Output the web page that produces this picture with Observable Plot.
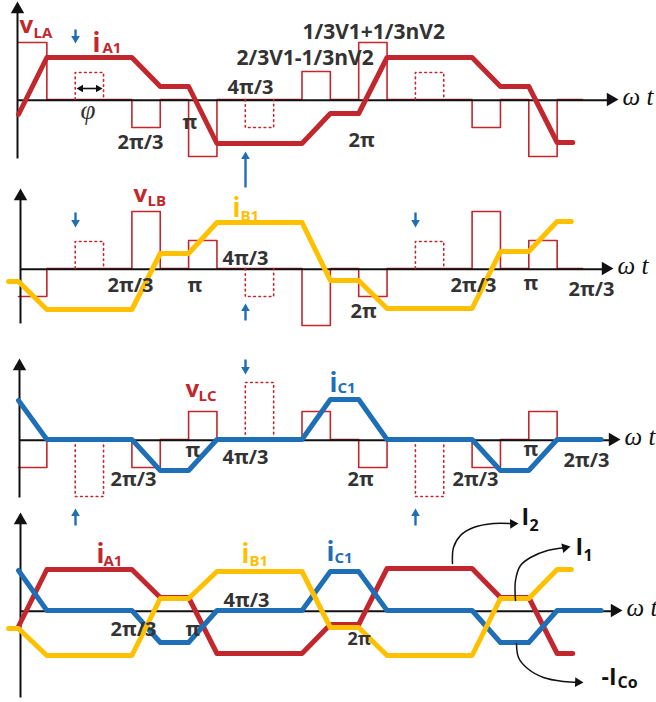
<!DOCTYPE html>
<html><head><meta charset="utf-8">
<script src="https://cdn.jsdelivr.net/npm/d3@7"></script>
<script src="https://cdn.jsdelivr.net/npm/@observablehq/plot@0.6"></script>
<style>body{margin:0;background:#fff;} #chart svg{display:block}</style>
</head><body><div id="chart"></div>
<script>
const RED = "#C1272D", YEL = "#FFC000", BLU = "#1F6FB6", INK = "#333333", BLK = "#111111";
const X0 = 18, U = 28.35;               // pixel of k=0 and pixels per k-step (pi/6)
const px2k = p => (p - X0) / U;

// panel layout (pixels)
const panels = [0, 1, 2, 3];
const base = [99, 268, 439, 610];
const vAxisX = [17, 20, 19, 20];
const vAxisTop = [1, 188, 358, 512];
const vAxisBot = [158, 323, 497, 697];
const hAxisTip = [618, 613, 620, 622];

// inductor voltages (step waveforms), breakpoints in k = pi/6 steps
const vK  = [0, 1, 4, 5, 6, 7, 10, 11, 12, 13, 16, 17, 18, 19, 19.9];
const vLA = [57, 0, -28, 0, -57, 0, 28, 0, 57, 0, -28, 0, -57, 0, 0];
const vLB = [-28, 0, 57, 0, 28, 0, -57, 0, -28, 0, 57, 0, 28, 0, 0];
const vLC = [-28, 0, -28, 0, 28, 0, 28, 0, -28, 0, -28, 0, 28, 0, 0];

// dotted phase-shift boxes
const dotK = [2, 8, 14];
const dotA = [27, -28, 27];
const dotB = [27, -28, 27];
const dotC = [-57, 57, -57];

// currents
const iAK   = [0, 1, 4, 5, 6, 7, 10, 11, 12, 13, 16, 17, 18, 19, 19.55];
const iA1_1 = [-15, 42, 42, 13, 13, -44, -44, -14, -14, 42, 42, 13, 13, -43, -43];
const iA1_4 = [-16, 41, 41, 13, 13, -43, -43, -14, -14, 42, 42, 13, 13, -43, -43];
const iBK   = [-0.35, 0, 1, 4, 5, 6, 7, 10, 11, 12, 13, 16, 17, 18, 19, 19.5];
const iB1_2 = [-13, -13, -41, -41, 15, 15, 46, 46, -12, -12, -40, -40, 17, 17, 47, 47];
const iB1_4 = [-18, -18, -45, -45, 12, 12, 39, 39, -17, -17, -45, -45, 12, 12, 41, 41];
const iCK   = [0, 1, 4, 5, 6, 7, 10, 11, 12, 13, 16, 17, 18, 19, 20.55];
const iC1_3 = [39, 0, 0, -31, -31, 0, 0, 40, 40, 0, 0, -31, -31, 0, 0];
const iC1_4 = [40, 0, 0, -32, -32, 0, 0, 39, 39, 0, 0, -32, -32, 0, 0];

// text labels: [left px, center px, text]
const tickLabels = [
  [117, 142, "2π/3"], [182, 122, "π"], [227, 87, "4π/3"], [348, 140, "2π"],
  [107, 285, "2π/3"], [187, 285, "π"], [222, 258, "4π/3"], [350, 311, "2π"], [450, 285, "2π/3"], [523, 283, "π"], [568, 289, "2π/3"],
  [110, 479, "2π/3"], [185, 450, "π"], [222, 457, "4π/3"], [347, 479, "2π"], [452, 479, "2π/3"], [523, 449, "π"], [563, 460, "2π/3"],
  [110, 629, "2π/3"], [185, 629, "π"], [223, 600, "4π/3"]
];
const smallTick = [[347, 639, "2π"]];
const formulas = [[236, 58, "2/3V1-1/3nV2"], [302, 32, "1/3V1+1/3nV2"]];
const redV = [[19, 25.3, "v"], [133, 194.3, "v"], [185, 389.3, "v"]];
const redI = [[92, 42.7, "i"], [96, 553.7, "i"]];
const redSub = [[33, 32.2, "LA"], [102, 47.2, "A1"], [147, 200.2, "LB"], [198, 395.2, "LC"], [103, 560.2, "A1"]];
const yelI = [[232, 207.7, "i"], [241, 553.7, "i"]];
const yelSub = [[240, 215.2, "B1"], [249, 560.2, "B1"]];
const bluI = [[329, 382.7, "i"], [326, 551.7, "i"]];
const bluSub = [[337, 387.2, "C1"], [334, 557.2, "C1"]];
const blkI = [[521, 517.6, "I"], [575, 547.6, "I"], [601, 677.6, "-I"]];
const blkSub = [[529, 524.9, "2"], [583, 554.9, "1"], [617, 681.9, "Co"]];

// blue marker arrows: [x px, tail y, tip y]
const blueArrows = [[75, 29, 43], [245, 187, 151], [75, 212, 227], [415, 212, 227], [245, 320, 303], [245, 359, 374], [75, 525, 508], [415, 525, 508]];

// black curved annotation arrows (pixel points, last = tip)
const curveI2  = [[452, 563], [453, 547], [460, 535], [473, 527], [493, 523], [518, 523]];
const curveI1  = [[515, 600], [515, 580], [520, 565], [530, 557], [547, 550], [570, 546]];
const curveICo = [[516, 643], [518, 657], [527, 668], [543, 677], [563, 681], [583, 682]];

// ---------- build tables ----------
const toRows = (ks, vs, b, id) => ks.map((k, i) => ({k, y: b - vs[i], id}));
const voltRows = [
  ...toRows(vK, vLA, base[0], "A"), ...toRows(vK, vLB, base[1], "B"), ...toRows(vK, vLC, base[2], "C")
];
const dotRows = [];
[[dotA, 0], [dotB, 1], [dotC, 2]].forEach(([hs, p]) => dotK.forEach((k, i) => {
  const id = p + "-" + i, b = base[p], h = hs[i];
  dotRows.push({k, y: b, id}, {k, y: b - h, id}, {k: k + 1, y: b - h, id}, {k: k + 1, y: b, id});
}));

const head = (tx, ty, rot, r) => {
  const d = 1.555 * r, a = rot * Math.PI / 180;
  return {k: px2k(tx - d * Math.sin(a)), y: ty + d * Math.cos(a), rot};
};

const hAxes = panels.map(p => ({x1: px2k(vAxisX[p]), y1: base[p], x2: px2k(hAxisTip[p] - 7), y2: base[p]}));
const vAxes = panels.map(p => ({x1: px2k(vAxisX[p]), y1: vAxisBot[p], x2: px2k(vAxisX[p]), y2: vAxisTop[p] + 7}));
const axisHeads = [
  ...panels.map(p => head(hAxisTip[p], base[p], 90, 5)),
  ...panels.map(p => head(vAxisX[p], vAxisTop[p], 0, 5))
];

const blueShafts = blueArrows.map(([x, t, tip]) => ({x1: px2k(x), y1: t, x2: px2k(x), y2: tip + (tip > t ? -4 : 4)}));
const blueHeads = blueArrows.map(([x, t, tip]) => head(x, tip, tip > t ? 180 : 0, 3.2));

const curveRows = [];
[[curveI2, "I2"], [curveI1, "I1"], [curveICo, "ICo"]].forEach(([pts, id]) =>
  pts.slice(0, -1).forEach(([x, y]) => curveRows.push({k: px2k(x), y, id})));
const curveHeads = [head(518, 523, 88, 3.6), head(570, 546, 78, 3.6), head(583, 682, 92, 3.6)];
[[curveI2, 88], [curveI1, 78], [curveICo, 92]].forEach(([pts, rot], j) => {
  const [tx, ty] = pts[pts.length - 1], a = rot * Math.PI / 180, d = 5;
  curveRows.push({k: px2k(tx - d * Math.sin(a)), y: ty + d * Math.cos(a), id: ["I2", "I1", "ICo"][j]});
});

const phiShaft = [{x1: px2k(80), y1: 88, x2: px2k(98), y2: 88}];
const phiHeads = [head(76, 88, 270, 2.8), head(102, 88, 90, 2.8)];

const tx = arr => arr.map(([x, y, t]) => ({k: px2k(x), y, t}));
const SANS = "'Open Sans', 'Liberation Sans', sans-serif";
const SERIF = "'Liberation Serif', 'DejaVu Serif', serif";
const textMark = (arr, fill, size, extra = {}) => Plot.text(tx(arr), {
  x: "k", y: "y", text: "t", fill, fontSize: size, fontFamily: SANS, fontWeight: "bold",
  textAnchor: "start", lineAnchor: "middle", ...extra
});

const omega = panels.map(p => ({k: px2k(hAxisTip[p] + 4), y: base[p] - 3, t: "ω t"}));
const phi = [{k: px2k(80), y: 110, t: "φ"}];

const chart = Plot.plot({
  width: 656, height: 702, margin: 0,
  x: {domain: [px2k(0), px2k(656)], range: [0, 656], axis: null},
  y: {domain: [0, 702], range: [0, 702], axis: null},
  style: {background: "white", overflow: "visible"},
  marks: [
    Plot.line(voltRows, {x: "k", y: "y", z: "id", curve: "step-after", stroke: RED, strokeWidth: 1.6}),
    Plot.link(hAxes, {x1: "x1", y1: "y1", x2: "x2", y2: "y2", stroke: BLK, strokeWidth: 2, dy: 0.8}),
    Plot.link(vAxes, {x1: "x1", y1: "y1", x2: "x2", y2: "y2", stroke: BLK, strokeWidth: 2}),
    Plot.dot(axisHeads, {x: "k", y: "y", rotate: "rot", symbol: "triangle", r: 5, fill: BLK, stroke: "none"}),
    Plot.line(dotRows, {x: "k", y: "y", z: "id", stroke: RED, strokeWidth: 1.6, strokeDasharray: "1.6,3.6"}),
    Plot.line(toRows(iAK, iA1_1, base[0], "a"), {x: "k", y: "y", stroke: RED, strokeWidth: 5, strokeLinejoin: "round", strokeLinecap: "round"}),
    Plot.line(toRows(iBK, iB1_2, base[1], "b"), {x: "k", y: "y", stroke: YEL, strokeWidth: 5, strokeLinejoin: "round", strokeLinecap: "round"}),
    Plot.line(toRows(iCK, iC1_3, base[2], "c"), {x: "k", y: "y", stroke: BLU, strokeWidth: 5, strokeLinejoin: "round", strokeLinecap: "round"}),
    Plot.line(toRows(iAK, iA1_4, base[3], "a"), {x: "k", y: "y", stroke: RED, strokeWidth: 5, strokeLinejoin: "round", strokeLinecap: "round"}),
    Plot.line(toRows(iCK, iC1_4, base[3], "c"), {x: "k", y: "y", stroke: BLU, strokeWidth: 5, strokeLinejoin: "round", strokeLinecap: "round"}),
    Plot.line(toRows(iBK, iB1_4, base[3], "b"), {x: "k", y: "y", stroke: YEL, strokeWidth: 5, strokeLinejoin: "round", strokeLinecap: "round"}),
    // blue marker arrows
    Plot.link(blueShafts, {x1: "x1", y1: "y1", x2: "x2", y2: "y2", stroke: BLU, strokeWidth: 2.4}),
    Plot.dot(blueHeads, {x: "k", y: "y", rotate: "rot", symbol: "triangle", r: 3.2, fill: BLU, stroke: "none"}),
    // black curved arrows
    Plot.line(curveRows, {x: "k", y: "y", z: "id", curve: "catmull-rom", stroke: BLK, strokeWidth: 1.5}),
    Plot.dot(curveHeads, {x: "k", y: "y", rotate: "rot", symbol: "triangle", r: 3.6, fill: BLK, stroke: "none"}),
    // phi arrow
    Plot.link(phiShaft, {x1: "x1", y1: "y1", x2: "x2", y2: "y2", stroke: BLK, strokeWidth: 1.6}),
    Plot.dot(phiHeads, {x: "k", y: "y", rotate: "rot", symbol: "triangle", r: 2.8, fill: BLK, stroke: "none"}),
    // texts
    textMark(tickLabels, INK, 20),
    textMark(smallTick, INK, 18),
    textMark(formulas, INK, 21),
    textMark(redV, RED, 24),
    textMark(redI, RED, 26),
    textMark(redSub, RED, 15),
    textMark(yelI, YEL, 26),
    textMark(yelSub, YEL, 15),
    textMark(bluI, BLU, 26),
    textMark(bluSub, BLU, 15),
    textMark(blkI, BLK, 23),
    textMark(blkSub, BLK, 16),
    Plot.text(omega, {x: "k", y: "y", text: "t", fill: BLK, fontSize: 25, fontFamily: SERIF, fontStyle: "italic", textAnchor: "start", lineAnchor: "middle"}),
    Plot.text(phi, {x: "k", y: "y", text: "t", fill: INK, fontSize: 27, fontFamily: SERIF, fontStyle: "italic", textAnchor: "start", lineAnchor: "middle"})
  ]
});
document.getElementById("chart").append(chart);
</script></body></html>
